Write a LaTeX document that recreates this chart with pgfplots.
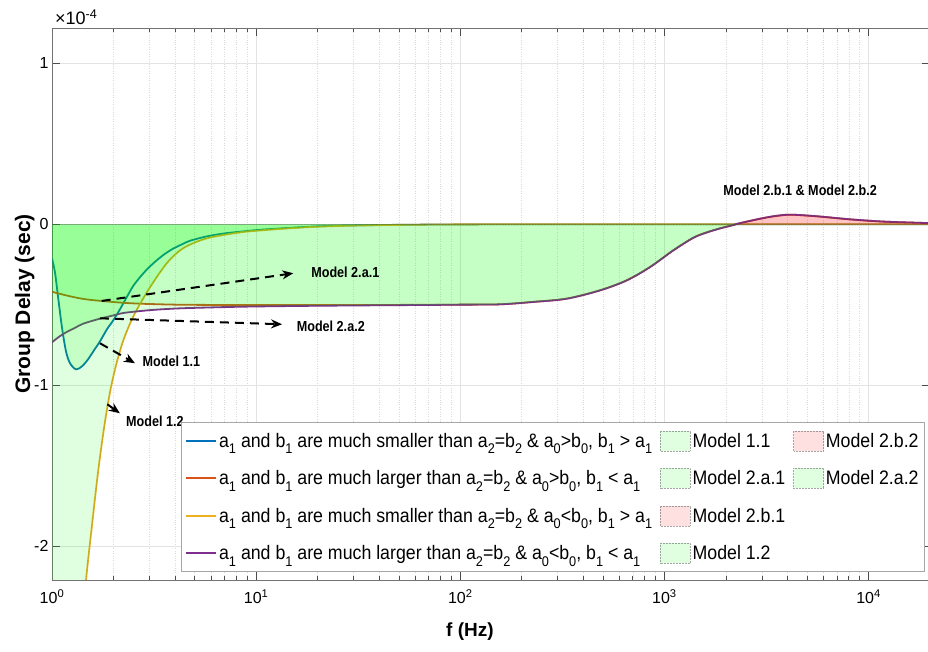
\documentclass[border=0pt]{standalone}
\usepackage{fontspec}
\setmainfont{Liberation Sans}
\newfontfamily\legfont{Liberation Sans}[FakeStretch=0.91]
\newfontfamily\annfam{Liberation Sans}[FakeStretch=0.87]
\usepackage{pgfplots}
\pgfplotsset{compat=1.18}
\usepackage{pgfplotstable}
\usetikzlibrary{arrows.meta}

\definecolor{mblue}{rgb}{0,0.447,0.741}
\definecolor{morange}{rgb}{0.850,0.325,0.098}
\definecolor{myellow}{rgb}{0.929,0.694,0.125}
\definecolor{mpurple}{rgb}{0.494,0.184,0.556}

\newcommand\sub[1]{\raisebox{-0.33em}{\fontsize{14}{14}\selectfont #1}}
\newcommand\annfont{\annfam\bfseries\fontsize{14.5}{16}\selectfont}

% group delay curves, y in units of 1e-4 s
\pgfplotstableread{
f y
1.000 -0.211
1.034 -0.298
1.070 -0.447
1.119 -0.640
1.171 -0.789
1.225 -0.863
1.311 -0.901
1.403 -0.882
1.501 -0.839
1.606 -0.783
1.718 -0.727
1.859 -0.652
1.997 -0.596
2.152 -0.528
2.322 -0.453
2.493 -0.385
2.696 -0.329
2.955 -0.273
3.256 -0.224
3.578 -0.183
3.923 -0.151
4.334 -0.124
4.744 -0.102
5.728 -0.075
7.04 -0.056
8.81 -0.043
10.45 -0.034
14.66 -0.022
20.56 -0.012
32.3 -0.006
63.5 -0.002
156 0
20000 0
}\blueT

\pgfplotstableread{
f y
1.000 -4.82
1.225 -3.33
1.371 -2.65
1.468 -2.211
1.570 -1.870
1.681 -1.540
1.798 -1.267
1.924 -1.043
2.059 -0.876
2.203 -0.745
2.357 -0.646
2.579 -0.540
3.021 -0.391
3.648 -0.242
4.384 -0.149
5.728 -0.087
8.337 -0.050
10.45 -0.038
14.66 -0.024
20.56 -0.014
32.3 -0.007
63.5 -0.002
156 0
20000 0
}\yellowT

\pgfplotstableread{
f y
1.000 -0.419
1.094 -0.432
1.225 -0.447
1.371 -0.460
1.535 -0.469
1.752 -0.476
2.152 -0.486
2.696 -0.493
4.0 -0.499
6.65 -0.501
16.4 -0.502
40 -0.501
70 -0.500
100 -0.499
156.7 -0.497
228 -0.482
332 -0.462
484 -0.410
654 -0.348
851 -0.265
1107 -0.161
1387 -0.083
1613 -0.050
1875 -0.025
2179 -0.004
2220 0
}\orangeN

\pgfplotstableread{
f y
1.000 -0.733
1.082 -0.699
1.180 -0.669
1.296 -0.643
1.423 -0.617
1.718 -0.586
1.969 -0.568
2.235 -0.551
2.696 -0.539
3.256 -0.530
4.236 -0.522
5.728 -0.517
8.337 -0.512
12.1 -0.509
20 -0.506
40 -0.503
70 -0.501
100 -0.499
156.7 -0.497
228 -0.482
332 -0.462
484 -0.410
654 -0.348
851 -0.265
1107 -0.161
1387 -0.083
1613 -0.050
1875 -0.025
2179 -0.004
2220 0
}\purpleN

\pgfplotstableread{
f y
2220 0
2535 0.017
2946 0.035
3424 0.050
4128 0.060
5580 0.050
8128 0.031
11830 0.017
19300 0.008
20000 0.0075
}\hiPos

\pgfplotsset{
  gfill/.style={draw=black!70, draw opacity=0.5, densely dotted, line width=0.5pt, fill=green, fill opacity=0.12},
  pfill/.style={draw=black!70, draw opacity=0.5, densely dotted, line width=0.5pt, fill=red, fill opacity=0.12},
  curve/.style={line width=1.8pt, no marks, smooth},
  lineleg/.style={legend image code/.code={\draw[line width=2pt,##1](0pt,0pt)--(30pt,0pt);}},
  patchleg/.style={legend image code/.code={\draw[##1](0pt,-10pt) rectangle (30pt,10pt);}},
}

\begin{document}
\begin{tikzpicture}
\path[use as bounding box] (0,0) rectangle (928pt,651pt);
\begin{axis}[
  name=gd,
  at={(52pt,71pt)}, anchor=south west,
  width=878pt, height=552pt, scale only axis,
  xmode=log, xmin=1, xmax=20000, ymin=-2.21, ymax=1.22,
  xtick={1,10,100,1000,10000},
  xticklabels={10\textsuperscript{0},10\textsuperscript{1},10\textsuperscript{2},10\textsuperscript{3},10\textsuperscript{4}},
  minor xtick={2,3,4,5,6,7,8,9,20,30,40,50,60,70,80,90,200,300,400,500,600,700,800,900,2000,3000,4000,5000,6000,7000,8000,9000},
  ytick={-2,-1,0,1}, yticklabels={-2,-1,0,1},
  minor y tick num=0,
  xmajorgrids, ymajorgrids, xminorgrids,
  major grid style={gray!22, line width=0.5pt},
  minor grid style={gray!30, dotted, line width=0.5pt},
  axis line style={black!55, line width=0.8pt},
  every tick/.style={black!70, line width=0.6pt},
  major tick length=8pt, minor tick length=4pt,
  tick label style={font=\fontsize{16}{18}\selectfont},
  xticklabel style={yshift=-6pt},
  xlabel={\bfseries\fontsize{19}{21}\selectfont f (Hz)},
  ylabel={\bfseries\fontsize{21}{23}\selectfont Group Delay (sec)},
  xlabel style={at={(axis description cs:0.476,-0.094)}, anchor=center},
  ylabel style={at={(axis description cs:-0.031,0.5)}, anchor=center},
  legend columns=3, legend cell align=left,
  legend style={at={(axis description cs:0.9943,0.0145)}, anchor=south east,
    draw=gray!70, line width=0.8pt, fill=white, fill opacity=1, text opacity=1,
    font=\legfont\fontsize{19.5}{22}\selectfont, row sep=17pt, inner xsep=4pt, inner ysep=8pt,
    /tikz/every even column/.append style={column sep=6pt}},
  clip mode=global,
]
% curves
\addplot[curve, mblue, forget plot] table[x=f,y=y]{\blueT};
\addplot[curve, morange, forget plot] table[x=f,y=y]{\orangeN};
\addplot[curve, morange, forget plot] table[x=f,y=y]{\hiPos};
\addplot[curve, myellow, forget plot] table[x=f,y=y]{\yellowT};
\addplot[curve, mpurple, forget plot] table[x=f,y=y]{\purpleN};
\addplot[curve, mpurple, forget plot] table[x=f,y=y]{\hiPos};

% shaded regions between each curve and zero
\addplot[gfill, smooth, forget plot] table[x=f,y=y]{\blueT} \closedcycle;   % Model 1.1
\addplot[gfill, smooth, forget plot] table[x=f,y=y]{\orangeN} \closedcycle; % Model 2.a.1
\addplot[pfill, smooth, forget plot] table[x=f,y=y]{\hiPos} \closedcycle;   % Model 2.b.1
\addplot[gfill, smooth, forget plot] table[x=f,y=y]{\yellowT} \closedcycle; % Model 1.2
\addplot[pfill, smooth, forget plot] table[x=f,y=y]{\hiPos} \closedcycle;   % Model 2.b.2
\addplot[gfill, smooth, forget plot] table[x=f,y=y]{\purpleN} \closedcycle; % Model 2.a.2

% legend, row by row
\addlegendimage{lineleg, mblue}
\addlegendentry{a\sub1 and b\sub1 are much smaller than a\sub2=b\sub2 \& a\sub0>b\sub0, b\sub1 > a\sub1}
\addlegendimage{patchleg, gfill}
\addlegendentry{Model 1.1}
\addlegendimage{patchleg, pfill}
\addlegendentry{Model 2.b.2}
\addlegendimage{lineleg, morange}
\addlegendentry{a\sub1 and b\sub1 are much larger than a\sub2=b\sub2 \& a\sub0>b\sub0, b\sub1 < a\sub1}
\addlegendimage{patchleg, gfill}
\addlegendentry{Model 2.a.1}
\addlegendimage{patchleg, gfill}
\addlegendentry{Model 2.a.2}
\addlegendimage{lineleg, myellow}
\addlegendentry{a\sub1 and b\sub1 are much smaller than a\sub2=b\sub2 \& a\sub0<b\sub0, b\sub1 > a\sub1}
\addlegendimage{patchleg, pfill}
\addlegendentry{Model 2.b.1}
\addlegendimage{empty legend}
\addlegendentry{}
\addlegendimage{lineleg, mpurple}
\addlegendentry{a\sub1 and b\sub1 are much larger than a\sub2=b\sub2 \& a\sub0<b\sub0, b\sub1 < a\sub1}
\addlegendimage{patchleg, gfill}
\addlegendentry{Model 1.2}
\addlegendimage{empty legend}
\addlegendentry{}

% annotations
\begin{scope}[black, line width=2pt, dash pattern=on 9pt off 6pt, -{Stealth[length=11pt,width=9pt]}]
\draw (axis cs:1.752,-0.476) -- (axis cs:15.2,-0.304);
\draw (axis cs:1.718,-0.584) -- (axis cs:13.4,-0.621);
\draw (axis cs:1.718,-0.739) -- (axis cs:2.55,-0.863);
\draw (axis cs:1.866,-1.118) -- (axis cs:2.15,-1.174);
\end{scope}
\node[font=\annfont, anchor=west] at (axis cs:17.9,-0.30) {Model 2.a.1};
\node[font=\annfont, anchor=west] at (axis cs:15.2,-0.634) {Model 2.a.2};
\node[font=\annfont, anchor=west] at (axis cs:2.67,-0.851) {Model 1.1};
\node[font=\annfont, anchor=west] at (axis cs:2.22,-1.224) {Model 1.2};
\node[font=\annfont] at (axis cs:4624,0.211) {Model 2.b.1 \& Model 2.b.2};
\end{axis}
% exponent of the y tick labels
\node[font=\fontsize{18}{20}\selectfont, anchor=south west, inner sep=1pt] at ([xshift=2pt,yshift=2pt]gd.north west) {×10\textsuperscript{-4}};
\end{tikzpicture}
\end{document}
